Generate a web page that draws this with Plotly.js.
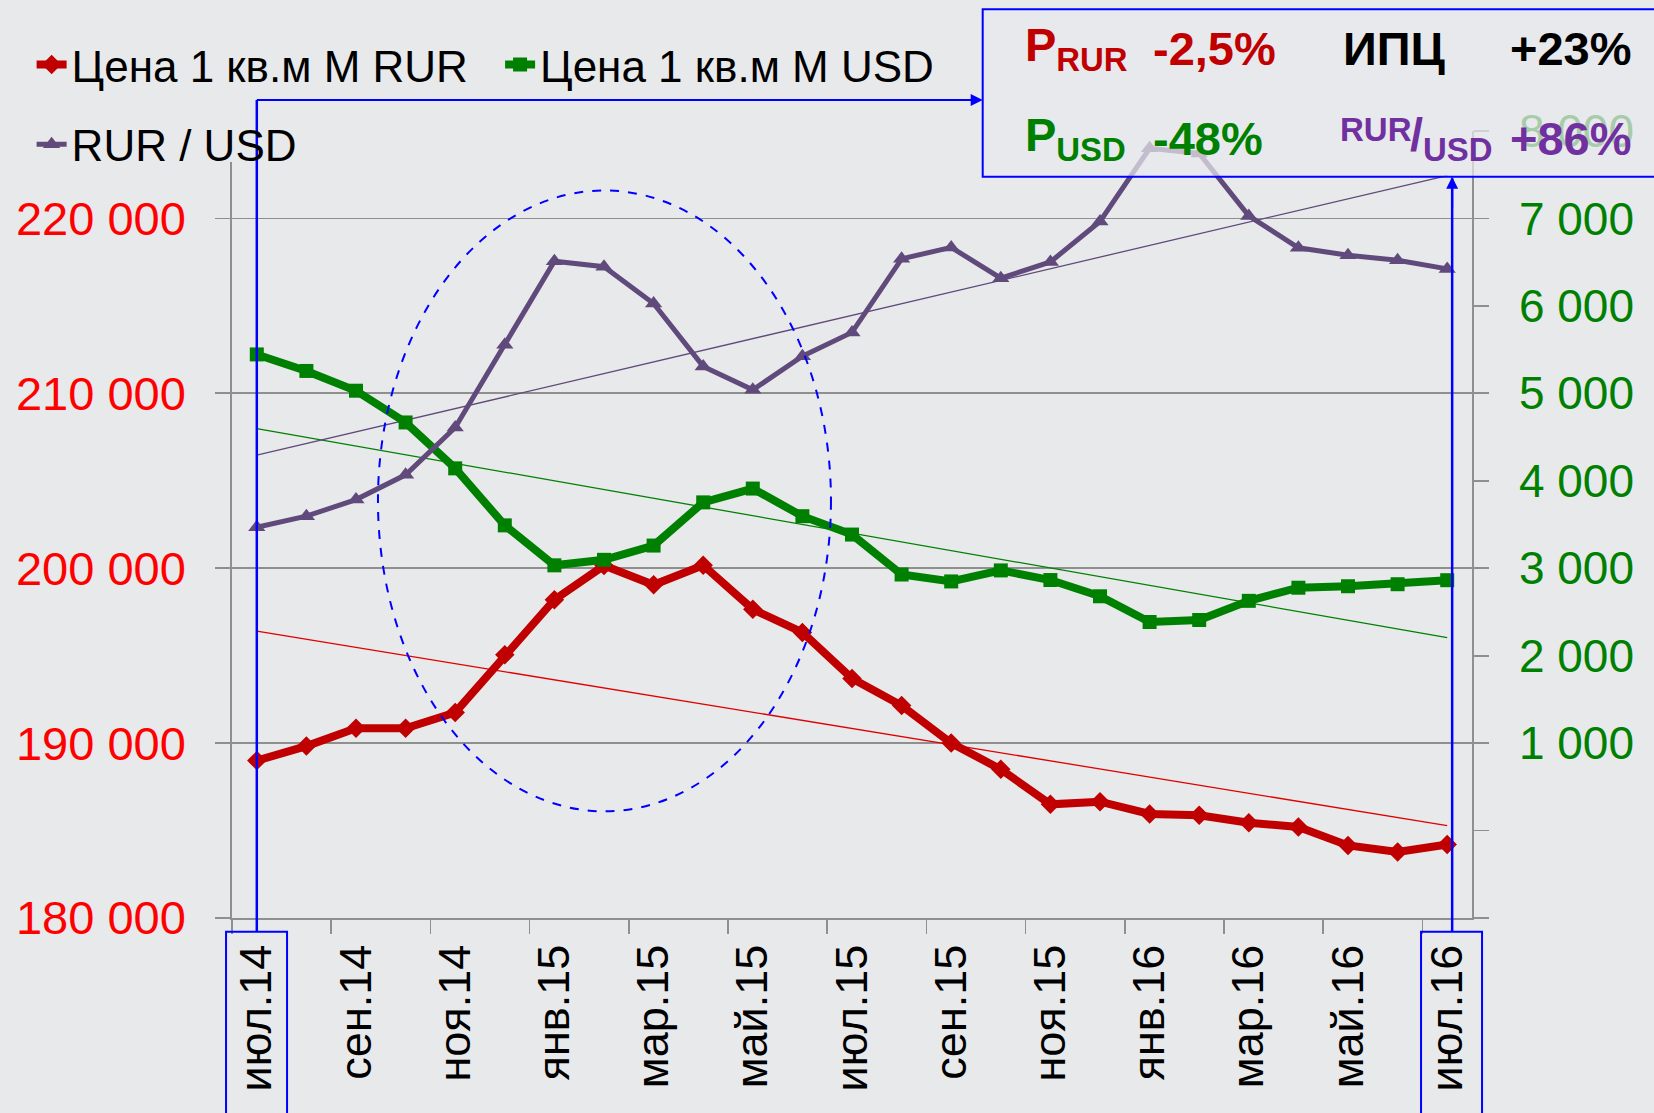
<!DOCTYPE html>
<html><head><meta charset="utf-8">
<script src="https://cdn.plot.ly/plotly-3.0.1.min.js"></script>
<style>html,body{margin:0;padding:0;background:#E8E9EB;} #chart{width:1654px;height:1113px;}</style>
</head><body><div id="chart"></div>
<script>
// ---- data ----
const months = ['июл.14','авг.14','сен.14','окт.14','ноя.14','дек.14','янв.15','фев.15','мар.15','апр.15','май.15','июн.15',
                'июл.15','авг.15','сен.15','окт.15','ноя.15','дек.15','янв.16','фев.16','мар.16','апр.16','май.16','июн.16','июл.16'];
const priceRUR = [189000,189830,190850,190850,191750,195050,198200,200150,199050,200170,197650,196330,
                  193700,192150,190000,188500,186500,186650,185950,185870,185450,185200,184150,183780,184200];
const priceUSD = [5445,5256,5030,4667,4142,3490,3033,3096,3259,3753,3911,3595,
                  3385,2928,2849,2975,2865,2679,2385,2408,2627,2777,2794,2817,2863];
const rurUsdX100 = [3469,3595,3785,4068,4609,5555,6511,6448,6028,5308,5040,5424,
                    5697,6538,6669,6317,6503,6965,7802,7744,7029,6665,6579,6521,6423];
const seriesNames = ['Цена 1 кв.м М RUR','Цена 1 кв.м М USD','RUR / USD'];
const leftTickVals = [180000,190000,200000,210000,220000];
const rightTickVals = [-1000,0,1000,2000,3000,4000,5000,6000,7000,8000];
const rightTickText = ['','','1 000','2 000','3 000','4 000','5 000','6 000','7 000','8 000'];
const boxTexts = {pRur:'-2,5%', cpiLabel:'ИПЦ', cpi:'+23%', pUsd:'-48%', rate:'+86%'};

// ---- helpers ----
const idx = months.map((m,i)=>i);
const labelIdx = idx.filter(i=>i%2===0);
function trend(y){
  const n=y.length; let sx=0,sy=0,sxx=0,sxy=0;
  for(let i=0;i<n;i++){sx+=i;sy+=y[i];sxx+=i*i;sxy+=i*y[i];}
  const b=(n*sxy-sx*sy)/(n*sxx-sx*sx); const a=(sy-b*sx)/n;
  return {x:[0,n-1], y:[a, a+b*(n-1)]};
}
const RED='#C00000', GREEN='#008000', PURPLE='#604A7B', BLUE='#0000FF', GRID='#8F8F8F', BG='#E8E9EB';
const FONT='"Liberation Sans", Arial, sans-serif';

const tR=trend(priceRUR), tU=trend(priceUSD), tX=trend(rurUsdX100);
const traces = [
  {x:tR.x, y:tR.y, mode:'lines', line:{color:'#E00000', width:1.3}, showlegend:false, yaxis:'y', hoverinfo:'skip'},
  {x:idx, y:priceRUR, name:seriesNames[0], mode:'lines+markers', yaxis:'y',
   line:{color:RED, width:8}, marker:{symbol:'diamond', size:15, color:RED}, legend:'legend'},
  {x:tU.x, y:tU.y, mode:'lines', line:{color:GREEN, width:1.3}, showlegend:false, yaxis:'y2', hoverinfo:'skip'},
  {x:tX.x, y:tX.y, mode:'lines', line:{color:PURPLE, width:1.3}, showlegend:false, yaxis:'y2', hoverinfo:'skip'},
  {x:idx, y:priceUSD, name:seriesNames[1], mode:'lines+markers', yaxis:'y2',
   line:{color:GREEN, width:8}, marker:{symbol:'square', size:14, color:GREEN}, legend:'legend2'},
  {x:idx, y:rurUsdX100, name:seriesNames[2], mode:'lines+markers', yaxis:'y2',
   line:{color:PURPLE, width:5}, marker:{symbol:'triangle-up', size:15, color:PURPLE}, legend:'legend3'}
];

const ann = (o)=>Object.assign({xref:'paper', yref:'paper', showarrow:false}, o);
const layout = {
  width:1654, height:1113,
  paper_bgcolor:BG, plot_bgcolor:BG,
  margin:{l:232, r:182, t:131, b:195, autoexpand:false},
  separators:', ',
  font:{family:FONT, color:'#000'},
  xaxis:{range:[-0.5,24.5], tickmode:'array', tickvals:labelIdx, ticktext:labelIdx.map(i=>months[i]),
         tickangle:-90, ticks:'', tickfont:{size:45, color:'#000'}, ticklabelstandoff:7,
         showline:true, linecolor:GRID, linewidth:1.7, showgrid:false, zeroline:false,
         minor:{tickmode:'array', tickvals:[-0.5,1.5,3.5,5.5,7.5,9.5,11.5,13.5,15.5,17.5,19.5,21.5,23.5],
                ticks:'outside', ticklen:14, tickcolor:GRID, tickwidth:1.7, showgrid:false}},
  yaxis:{range:[180000,225000], tickmode:'array', tickvals:leftTickVals, tickformat:',d',
         ticks:'outside', ticklen:15, tickcolor:GRID, tickwidth:1.7, ticklabelstandoff:20,
         tickfont:{size:47, color:'#FF0000'}, showline:true, linecolor:GRID, linewidth:1.7,
         showgrid:true, gridcolor:GRID, gridwidth:1.7, zeroline:false},
  yaxis2:{range:[-1000,8000], overlaying:'y', side:'right', tickmode:'array', tickvals:rightTickVals, ticktext:rightTickText,
          ticks:'outside', ticklen:15, tickcolor:GRID, tickwidth:1.7, ticklabelstandoff:21,
          tickfont:{size:46, color:GREEN}, showline:true, linecolor:GRID, linewidth:1.7,
          showgrid:false, zeroline:false},
  legend:{x:-0.1616, y:1.0839, xanchor:'left', yanchor:'middle', bgcolor:'rgba(0,0,0,0)', font:{size:44, family:FONT}},
  legend2:{x:0.2162, y:1.0839, xanchor:'left', yanchor:'middle', bgcolor:'rgba(0,0,0,0)', font:{size:44, family:FONT}},
  legend3:{x:-0.1616, y:0.9828, xanchor:'left', yanchor:'middle', bgcolor:'rgba(0,0,0,0)', font:{size:44, family:FONT}},
  shapes:[
    {type:'rect', xref:'paper', yref:'paper', x0:-0.01, x1:0.015, y0:0.9606, y1:1.01, fillcolor:BG, line:{width:0}, layer:'above'},
    {type:'circle', xref:'x', yref:'y', x0:2.443, x1:11.576, y0:186100, y1:221600, line:{color:BLUE, width:2, dash:'dash'}, layer:'above'},
    {type:'rect', xref:'paper', yref:'paper', x0:0.6054, x1:1.2, y0:0.942, y1:1.1547, fillcolor:'rgba(232,233,235,0.72)', line:{color:BLUE, width:2}, layer:'above'},
    {type:'rect', xref:'paper', yref:'paper', x0:-0.0048, x1:0.0444, y0:-0.25, y1:-0.0174, line:{color:BLUE, width:2}, layer:'above'},
    {type:'rect', xref:'paper', yref:'paper', x0:0.9589, x1:1.0081, y0:-0.25, y1:-0.0174, line:{color:BLUE, width:2}, layer:'above'},
    {type:'line', xref:'paper', yref:'paper', x0:0.02, x1:0.02, y0:-0.0174, y1:1.0394, line:{color:BLUE, width:2.5}, layer:'above'},
    {type:'line', xref:'paper', yref:'paper', x0:0.02, x1:0.603, y0:1.0394, y1:1.0394, line:{color:BLUE, width:2}, layer:'above'},
    {type:'line', xref:'paper', yref:'paper', x0:0.984, x1:0.984, y0:-0.0174, y1:0.94, line:{color:BLUE, width:2.5}, layer:'above'}
  ],
  annotations:[
    {xref:'paper', yref:'paper', x:0.6054, y:1.0394, ax:-40, ay:0, text:' ', showarrow:true, arrowhead:2, arrowsize:1.2, arrowwidth:2, arrowcolor:BLUE},
    {xref:'paper', yref:'paper', x:0.984, y:0.942, ax:0, ay:40, text:' ', showarrow:true, arrowhead:2, arrowsize:1.2, arrowwidth:2, arrowcolor:BLUE},
    ann({x:0.6378, y:1.1051, xanchor:'left', yanchor:'middle', text:'P<sub>RUR</sub>', font:{family:FONT, size:47, weight:'bold', color:RED}}),
    ann({x:0.7924, y:1.1051, xanchor:'center', yanchor:'middle', text:boxTexts.pRur, font:{family:FONT, size:47, weight:'bold', color:RED}}),
    ann({x:0.9373, y:1.1051, xanchor:'center', yanchor:'middle', text:boxTexts.cpiLabel, font:{family:FONT, size:47, weight:'bold', color:'#000'}}),
    ann({x:1.0795, y:1.1051, xanchor:'center', yanchor:'middle', text:boxTexts.cpi, font:{family:FONT, size:47, weight:'bold', color:'#000'}}),
    ann({x:0.6378, y:0.9906, xanchor:'left', yanchor:'middle', text:'P<sub>USD</sub>', font:{family:FONT, size:47, weight:'bold', color:GREEN}}),
    ann({x:0.7871, y:0.9906, xanchor:'center', yanchor:'middle', text:boxTexts.pUsd, font:{family:FONT, size:47, weight:'bold', color:GREEN}}),
    ann({x:0.9225, y:1.0025, xanchor:'center', yanchor:'middle', text:'RUR', font:{family:FONT, size:33, weight:'bold', color:'#7030A0'}}),
    ann({x:0.9487, y:0.9906, xanchor:'left', yanchor:'middle', text:'/<sub>USD</sub>', font:{family:FONT, size:47, weight:'bold', color:'#7030A0'}}),
    ann({x:1.0795, y:0.9906, xanchor:'center', yanchor:'middle', text:boxTexts.rate, font:{family:FONT, size:47, weight:'bold', color:'#7030A0'}})
  ]
};
Plotly.newPlot('chart', traces, layout, {displayModeBar:false, staticPlot:true});
</script></body></html>
